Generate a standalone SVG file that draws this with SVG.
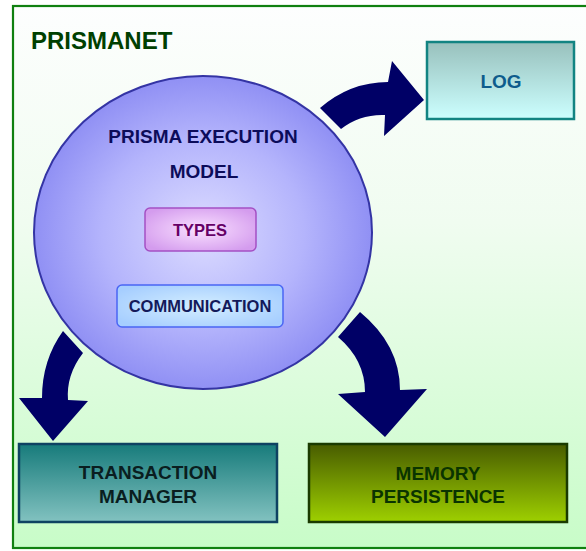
<svg xmlns="http://www.w3.org/2000/svg" width="586" height="551" viewBox="0 0 586 551">
  <defs>
    <linearGradient id="bg" x1="0" y1="0" x2="0" y2="1">
      <stop offset="0" stop-color="#fdfefe"/>
      <stop offset="0.4" stop-color="#f0fcf0"/>
      <stop offset="1" stop-color="#c8fcc8"/>
    </linearGradient>
    <radialGradient id="circ" cx="0.5" cy="0.5" r="0.5">
      <stop offset="0" stop-color="#dcdcff"/>
      <stop offset="0.6" stop-color="#b4b4fc"/>
      <stop offset="1" stop-color="#9090f4"/>
    </radialGradient>
    <linearGradient id="logg" x1="0" y1="0" x2="0" y2="1">
      <stop offset="0" stop-color="#98c0bc"/>
      <stop offset="1" stop-color="#ccffff"/>
    </linearGradient>
    <linearGradient id="tmg" x1="0" y1="0" x2="0" y2="1">
      <stop offset="0" stop-color="#177b7b"/>
      <stop offset="1" stop-color="#82c2c0"/>
    </linearGradient>
    <linearGradient id="mpg" x1="0" y1="0" x2="0" y2="1">
      <stop offset="0" stop-color="#485c00"/>
      <stop offset="1" stop-color="#9ed000"/>
    </linearGradient>
    <radialGradient id="typg" cx="0.5" cy="0.5" r="0.6">
      <stop offset="0" stop-color="#fae0ff"/>
      <stop offset="1" stop-color="#d49cee"/>
    </radialGradient>
    <radialGradient id="comg" cx="0.5" cy="0.5" r="0.6">
      <stop offset="0" stop-color="#d4eeff"/>
      <stop offset="1" stop-color="#a6ceff"/>
    </radialGradient>
  </defs>
  <style>
    text { font-family: "Liberation Sans", Arial, sans-serif; font-weight: bold; text-anchor: middle; }
    .arrow { fill: #000066; }
  </style>

  <rect x="0" y="0" width="586" height="551" fill="#ffffff"/>
  <g id="frame">
    <rect x="13" y="6" width="590" height="542" fill="url(#bg)" stroke="#108010" stroke-width="2.2"/>
    <text x="31" y="49" style="text-anchor:start" font-size="24" fill="#004000">PRISMANET</text>
  </g>

  <g id="connectors">
    <path class="arrow" d="M320,108 Q350,82 388,82 L392,61 L424,100 L384,136 L385,115 Q360,114 341,129 Z"/>
    <path class="arrow" d="M63,331 Q42,360 42,398 L19,398 L53,441 L88,401 L68,400 Q66,375 83,353 Z"/>
    <path class="arrow" d="M360,312 Q400,345 400,390 L427,389 L385,437 L338,394 L365,392 Q365,360 338,337 Z"/>
  </g>

  <g id="execution-model">
    <ellipse cx="203" cy="232.5" rx="169" ry="156.5" fill="url(#circ)" stroke="#3434a4" stroke-width="2"/>
    <text x="203" y="143" font-size="19" fill="#0c0c5a">PRISMA EXECUTION</text>
    <text x="204" y="178" font-size="19" fill="#0c0c5a">MODEL</text>
  </g>

  <g id="types">
    <rect x="145" y="208" width="111" height="43" rx="5" fill="url(#typg)" stroke="#a450c4" stroke-width="1.5"/>
    <text x="200" y="236" font-size="16.5" fill="#660066">TYPES</text>
  </g>

  <g id="communication">
    <rect x="117" y="285" width="166" height="42" rx="5" fill="url(#comg)" stroke="#4a66f4" stroke-width="1.5"/>
    <text x="200" y="312" font-size="16.5" fill="#141a5a">COMMUNICATION</text>
  </g>

  <g id="log">
    <rect x="427" y="42" width="147" height="77" fill="url(#logg)" stroke="#128482" stroke-width="2.5"/>
    <text x="501" y="88" font-size="19" fill="#0e5c8c">LOG</text>
  </g>

  <g id="transaction-manager">
    <rect x="19" y="444" width="258" height="78" fill="url(#tmg)" stroke="#0e4262" stroke-width="2.5"/>
    <text x="148" y="479" font-size="19" fill="#0a1e20">TRANSACTION</text>
    <text x="148" y="503" font-size="19" fill="#0a1e20">MANAGER</text>
  </g>

  <g id="memory-persistence">
    <rect x="309" y="444" width="258" height="78" fill="url(#mpg)" stroke="#1a3a00" stroke-width="2.5"/>
    <text x="438" y="480" font-size="19" fill="#0a3400">MEMORY</text>
    <text x="438" y="503" font-size="19" fill="#0a3400">PERSISTENCE</text>
  </g>
</svg>
